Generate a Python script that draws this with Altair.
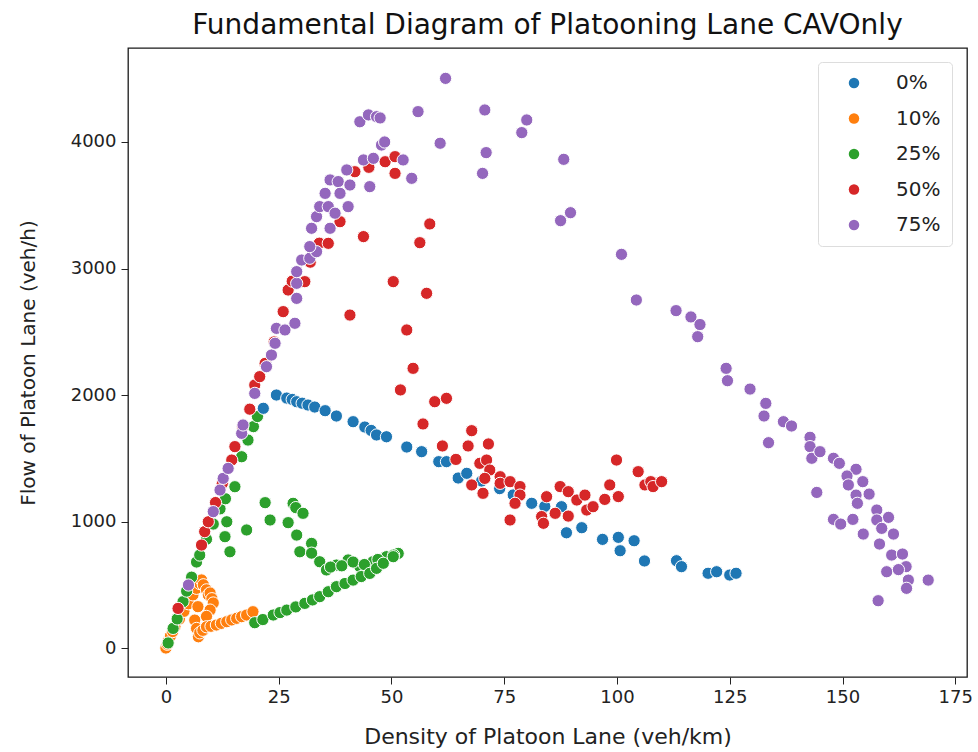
import altair as alt
import pandas as pd

# Share of CAVs in the platoon lane
series_names = ["0%", "10%", "25%", "50%", "75%"]
series_colors = ["#1f77b4", "#ff7f0e", "#2ca02c", "#d62728", "#9467bd"]

# 0% CAV
density_0 = [21.6, 24.5, 26.8, 28, 29, 30.2, 31.5, 33, 35.3, 37.8, 41.5, 44.1, 45.5,
             46.7, 48.9, 53.4, 56.7, 60.5, 62.2, 64.8, 66.7, 70, 74, 77, 81.1, 84,
             87.7, 88.8, 92.2, 96.8, 100.3, 100.7, 103.8, 106.1, 113.2, 114.3, 120.2,
             122.1, 125, 126.4]
flow_0 = [1895, 2000, 1976, 1965, 1947, 1935, 1921, 1905, 1876, 1834, 1789, 1747, 1720,
          1684, 1670, 1589, 1552, 1473, 1473, 1344, 1381, 1320, 1260, 1210, 1144, 1120,
          1117, 911, 951, 859, 875, 769, 848, 688, 690, 643, 591, 603, 577, 591]

# 10% CAV
density_10 = [0, 0.3, 0.6, 1, 1.5, 2, 3, 4, 5, 6, 6.8, 7.5, 7.9, 8.3, 9, 9.4, 9.8, 10.2,
              10.5, 9.8, 9, 7.1, 6.4, 6.8, 7.2, 7.5, 8.2, 9, 10, 11.2, 12.3, 13.5, 14.6,
              15.7, 16.8, 17.9, 19.3]
flow_10 = [0, 30, 60, 95, 130, 170, 230, 290, 350, 420, 472, 510, 538, 500, 460, 420, 435,
           390, 356, 300, 250, 327, 221, 155, 89, 120, 140, 168, 172, 182, 195, 208, 222,
           235, 248, 261, 287]

# 25% CAV
density_25 = [0.5, 1.6, 2.5, 3.8, 4.6, 5.7, 6.8, 7.5, 9, 10.5, 12, 13.2, 15.3, 16.8, 18.2,
              19.4, 20.3,
              13.5, 13.1, 14.2, 17.9, 22, 23.1, 27.1, 28.2, 28.8, 30.4, 29, 29.7, 32.3,
              32.3, 34.1, 35.6, 37.8, 40.4, 43, 45.9, 48.9, 51.5, 50.5, 36.5, 39, 41.5,
              44, 47,
              19.7, 21.5, 23.8, 25.3, 26.8, 28.8, 30.8, 32.5, 34.1, 36, 37.8, 39.7, 41.5,
              43.3, 45.2, 46.7, 48.2, 50.4]
flow_25 = [40, 155, 230, 366, 450, 560, 680, 735, 860, 980, 1100, 1180, 1275, 1512, 1644,
           1750, 1830,
           998, 880, 761, 933, 1149, 1012, 991, 1144, 1110, 1065, 893, 761, 827,
           750, 682, 617, 656, 696, 643, 682, 722, 748, 735, 640, 650, 680,
           660, 700,
           200, 225, 261, 280, 300, 325, 353, 380, 406, 445, 485, 510, 537,
           565, 590, 630, 670, 722]

# 50% CAV
density_50 = [2.7, 7.9, 8.6, 9.4, 11, 12.5, 14.6, 15.3, 17, 18.6, 19.7, 20.8, 22, 24, 26,
              27.1, 28, 30.8, 32, 34, 36, 38.6, 41.9, 45, 48.6, 50.8, 50.8,
              40.8, 43.8, 50.4, 53.4, 54.8, 52, 56.3, 58.5, 57.8, 59.6, 62.2, 57, 61.3,
              64.3, 67, 67.8, 69.6, 71.1, 71.5, 71.8, 70.7, 67.8, 70.3, 74.1, 74.1, 76.3,
              78.5, 78.5, 77.4, 76.3, 84.4, 83.3, 83.7, 86.3, 87.4, 89.2, 89.2, 91.1,
              92.9, 93.3, 94.7, 97.3, 98.4, 100.3, 99.9, 104.7, 106.2, 107.5, 108, 109.9]
flow_50 = [313, 814, 920, 998, 1150, 1300, 1486, 1592, 1750, 1888, 2079, 2145, 2250, 2420,
           2659, 2830, 2900, 2896, 3050, 3200, 3199, 3370, 3765, 3800, 3844, 3884, 3752,
           2632, 3252, 2896, 2514, 2211, 2040, 3204, 3352, 2804, 1947, 1974, 1771, 1597,
           1491, 1597, 1718, 1460, 1486, 1613, 1407, 1341, 1289, 1223, 1354, 1302, 1315,
           1276, 1209, 1144, 1012, 1196, 1039, 986, 1065, 1276, 1236, 1043, 1170,
           1209, 1091, 1117, 1175, 1289, 1197, 1486, 1394, 1289, 1315, 1276, 1315]

# 75% CAV
density_75 = [5, 10.5, 12, 12.7, 13.8, 16.8, 17.1, 19.7, 22.3, 23.4, 24.2, 24.5, 26.4,
              28.6, 29, 29, 29, 30.1, 31.9, 33.4, 31.9, 32.3, 33.4, 36.4, 34.1, 36, 37.5,
              40.4, 35.3, 36.4, 38.2, 38.6, 40.1, 40.8, 43.8, 46, 45.2, 47.8, 48.5, 52.6,
              54.5, 43, 44.9, 46.7, 47.5, 55.9, 62, 60.8, 70.7, 71, 70.2, 80, 78.9, 88.2,
              89.7, 87.5, 101, 104.3, 113.1, 116.4, 118.4, 117.9, 124.2, 124.5, 129.5,
              133, 132.6, 133.6, 136.9, 138.7, 142.8, 142.8, 143.2, 145, 148, 149.3,
              144.3, 153, 151, 151.3, 154.5, 153, 153.3, 155.9, 148, 149.6, 152.3, 157.6,
              160.2, 157.6, 158.7, 154.6, 158.2, 161.3, 160.9, 163.3, 164.1, 159.8, 162.4,
              164.6, 164.2, 169, 157.9]
flow_75 = [498, 1078, 1249, 1341, 1420, 1697, 1763, 2013, 2224, 2316, 2409, 2527, 2514,
           2567, 2764, 2883, 2975, 3067, 3081, 3133, 3173, 3318, 3410, 3318, 3489, 3489,
           3437, 3489, 3594, 3700, 3687, 3594, 3779, 3660, 3858, 3871, 3647, 3976, 4000,
           3858, 3713, 4160, 4214, 4200, 4190, 4240, 4503, 3990, 4253, 3916, 3752, 4174,
           4074, 3863, 3441, 3378, 3112, 2751, 2667, 2617, 2557, 2461, 2211, 2113, 2047,
           1934, 1834, 1623, 1789, 1755, 1666, 1592, 1500, 1552, 1500, 1460,
           1230, 1413, 1360, 1289, 1315, 1209, 1144, 1217, 1017, 980, 1017, 1091,
           1033, 1012, 946, 901, 822, 901, 735, 743, 643, 603, 620,
           537, 472, 537, 374]

# Drawing order: later groups are painted on top
draw_order = [
    ("10%", density_10, flow_10),
    ("25%", density_25, flow_25),
    ("0%", density_0, flow_0),
    ("50%", density_50, flow_50),
    ("75%", density_75, flow_75),
]

frames = []
for name, dens, flow in draw_order:
    frames.append(pd.DataFrame({"density": dens, "flow": flow, "share": name}))
df = pd.concat(frames, ignore_index=True)

font = "DejaVu Sans"

chart = (
    alt.Chart(df)
    .mark_circle(size=150, opacity=1, stroke="white", strokeWidth=1)
    .encode(
        x=alt.X(
            "density:Q",
            title="Density of Platoon Lane (veh/km)",
            scale=alt.Scale(domain=[-8.4, 177.6], nice=False, zero=False),
            axis=alt.Axis(values=[0, 25, 50, 75, 100, 125, 150, 175],
                          labelPadding=4, titlePadding=20, titleFontSize=22),
        ),
        y=alt.Y(
            "flow:Q",
            title="Flow of Platoon Lane (veh/h)",
            scale=alt.Scale(domain=[-229, 4743], nice=False, zero=False),
            axis=alt.Axis(values=[0, 1000, 2000, 3000, 4000], format="d",
                          labelPadding=5, titlePadding=32, titleFontSize=20),
        ),
        color=alt.Color(
            "share:N",
            scale=alt.Scale(domain=series_names, range=series_colors),
            legend=alt.Legend(
                title=None,
                orient="none",
                legendX=690,
                legendY=14,
                padding=11,
                symbolOffset=15,
                symbolType="circle",
                symbolSize=110,
                symbolStrokeWidth=0,
                labelOffset=32,
                labelFontSize=20,
                labelFont=font,
                labelColor="#222",
                rowPadding=15.5,
                strokeColor="#dddddd",
                fillColor="white",
                cornerRadius=4,
            ),
        ),
    )
    .properties(
        width=839,
        height=629,
        background="white",
        autosize=alt.AutoSizeParams(type="none"),
        padding={"left": 128, "top": 48, "right": 11, "bottom": 75},
        title=alt.TitleParams(
            "Fundamental Diagram of Platooning Lane CAVOnly",
            font=font,
            fontSize=28,
            fontWeight="normal",
            color="#111",
            offset=8,
            anchor="middle",
        ),
    )
    .configure_view(stroke="#1a1a1a", strokeWidth=1.3)
    .configure_axis(
        domain=False,
        grid=False,
        tickColor="#222",
        tickSize=7,
        tickWidth=1,
        labelFont=font,
        labelFontSize=18,
        labelColor="#222",
        titleFont=font,
        titleFontWeight="normal",
        titleColor="#222",
    )
)

chart.save("out.html", embed_options={"renderer": "svg", "actions": False})
